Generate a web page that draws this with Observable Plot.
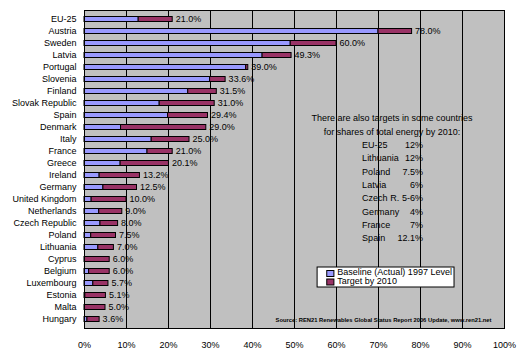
<!DOCTYPE html>
<html>
<head>
<meta charset="utf-8">
<script src="https://cdn.jsdelivr.net/npm/d3@7"></script>
<script src="https://cdn.jsdelivr.net/npm/@observablehq/plot@0.6"></script>
<style>
  body { margin: 0; background: #fff; }
  #chart { width: 517px; height: 350px; }
</style>
</head>
<body>
<div id="chart"></div>
<script>
// Renewable electricity share: 1997 baseline and 2010 target (%)
const countries = ["EU-25", "Austria", "Sweden", "Latvia", "Portugal", "Slovenia", "Finland",
  "Slovak Republic", "Spain", "Denmark", "Italy", "France", "Greece", "Ireland", "Germany",
  "United Kingdom", "Netherlands", "Czech Republic", "Poland", "Lithuania", "Cyprus", "Belgium",
  "Luxembourg", "Estonia", "Malta", "Hungary"];
const baseline = [12.9, 70.0, 49.1, 42.4, 38.5, 29.9, 24.7, 17.9, 19.9, 8.7, 16.0, 15.0, 8.6,
  3.6, 4.5, 1.7, 3.5, 3.8, 1.6, 3.3, 0.0, 1.1, 2.1, 0.2, 0.0, 0.7];
const target = [21.0, 78.0, 60.0, 49.3, 39.0, 33.6, 31.5, 31.0, 29.4, 29.0, 25.0, 21.0, 20.1,
  13.2, 12.5, 10.0, 9.0, 8.0, 7.5, 7.0, 6.0, 6.0, 5.7, 5.1, 5.0, 3.6];
const xTicks = [0, 10, 20, 30, 40, 50, 60, 70, 80, 90, 100];

// Side note on total-energy targets
const noteHeader = ["There are also targets in some countries", "for shares of total energy by 2010:"];
const noteCountries = ["EU-25", "Lithuania", "Poland", "Latvia", "Czech R.", "Germany", "France", "Spain"];
const noteShares = ["12%", "12%", "7.5%", "6%", "5-6%", "4%", "7%", "12.1%"];

const seriesLabels = ["Baseline (Actual) 1997 Level", "Target by 2010"];
const seriesColors = ["#9999ff", "#993366"];
const sourceText = "Source: REN21 Renewables Global Status Report 2006 Update, www.ren21.net";

const rows = countries.map((country, i) => ({country, baseline: baseline[i], target: target[i]}));

const marginTop = 10, marginBottom = 22;
const FONT = "Liberation Sans, Arial, Helvetica, sans-serif";

// Legend swatches, drawn as small squares inside the white legend box
function swatches(index, scales) {
  const g = d3.create("svg:g");
  const x1 = scales.x(57.8), x2 = scales.x(59.5);
  seriesColors.forEach((c, i) => {
    g.append("rect")
      .attr("x", x1).attr("y", 270.5 + i * 8.5)
      .attr("width", x2 - x1).attr("height", 6)
      .attr("fill", c).attr("stroke", "#000");
  });
  return g.node();
}

const chart = Plot.plot({
  width: 517,
  height: 350,
  marginLeft: 84,
  marginRight: 13,
  marginTop,
  marginBottom,
  style: {fontFamily: FONT, fontSize: "9px", background: "white", color: "black"},
  x: {domain: [0, 100]},
  y: {domain: countries, padding: 0},
  marks: [
    Plot.frame({fill: "#c0c0c0"}),
    Plot.ruleX(xTicks.slice(1, -1), {stroke: "#000", strokeWidth: 1}),
    Plot.axisX({ticks: xTicks, tickFormat: d => d + "%", tickSize: 0, tickPadding: 13,
      label: null, fontSize: 9}),
    Plot.axisY({tickSize: 0, tickPadding: 8, label: null, fontSize: 9}),
    // baseline segment
    Plot.barX(rows, {y: "country", x1: d => 0, x2: "baseline", fill: seriesColors[0],
      stroke: "#000", strokeWidth: 1, insetTop: 3.5, insetBottom: 3.5}),
    // rise to the 2010 target
    Plot.barX(rows, {y: "country", x1: "baseline", x2: "target", fill: seriesColors[1],
      stroke: "#000", strokeWidth: 1, insetTop: 3.5, insetBottom: 3.5}),
    Plot.text(rows, {y: "country", x: "target", text: d => d.target.toFixed(1) + "%",
      textAnchor: "start", dx: 3, fontSize: 9}),
    // side note
    Plot.text([noteHeader.join("\n")], {x: d => 73.2, frameAnchor: "top", lineAnchor: "top",
      dy: 101.5, lineHeight: 1.48, fontSize: 9, textAnchor: "middle"}),
    Plot.text([noteCountries.join("\n")], {x: d => 66.1, frameAnchor: "top", lineAnchor: "top",
      dy: 128, lineHeight: 1.48, fontSize: 9, textAnchor: "start"}),
    Plot.text([noteShares.join("\n")], {x: d => 80.6, frameAnchor: "top", lineAnchor: "top",
      dy: 128, lineHeight: 1.48, fontSize: 9, textAnchor: "end"}),
    // legend box
    Plot.rect([0], {x1: d => 55.5, x2: d => 88.1, fill: "white", stroke: "#000",
      insetTop: 267 - marginTop, insetBottom: 350 - marginBottom - 287}),
    swatches,
    Plot.text([seriesLabels.join("\n")], {x: d => 60.2, frameAnchor: "top", lineAnchor: "top",
      dy: 268.5 - marginTop, lineHeight: 0.95, fontSize: 9, textAnchor: "start"}),
    Plot.text([sourceText], {x: d => 71.2, frameAnchor: "top", lineAnchor: "middle",
      dy: 320 - marginTop, fontSize: 5.8, fontWeight: "bold", textAnchor: "middle"}),
    Plot.frame({stroke: "#000"})
  ]
});
document.getElementById("chart").append(chart);
</script>
</body>
</html>
